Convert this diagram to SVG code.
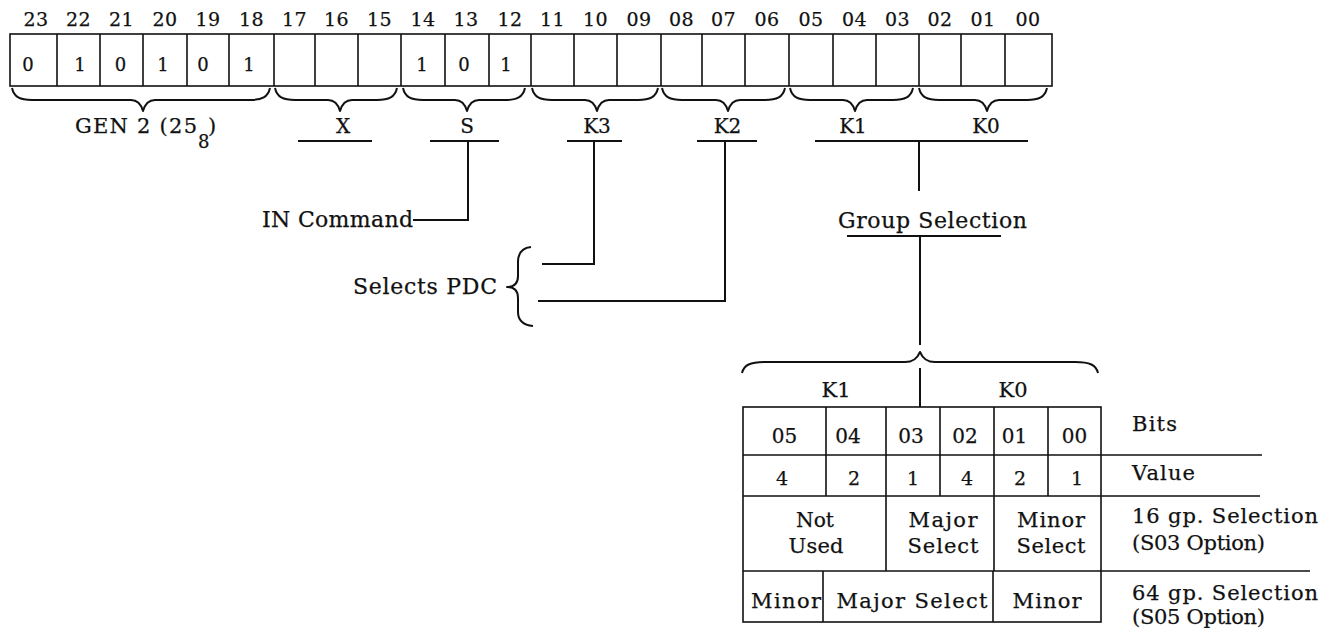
<svg xmlns="http://www.w3.org/2000/svg" width="1340" height="628" viewBox="0 0 1340 628">
<style>
.t{font-family:"DejaVu Serif","Liberation Serif",serif;fill:#111;stroke:#111;stroke-width:0.25;}
.m{text-anchor:middle;}
.n{font-size:19px;}
.v{font-size:18px;}
.lb{font-size:20px;}
.w{font-size:21px;}
.big{font-size:22px;}
.ln{stroke:#111;stroke-width:2;fill:none;}
.bx{stroke:#111;stroke-width:1.6;fill:none;}
.br{stroke:#111;stroke-width:2;fill:none;stroke-linejoin:round;}
</style>
<rect width="1340" height="628" fill="#fff"/>

<g id="register">
  <g class="t n m" letter-spacing="0.5">
    <text x="36" y="26">23</text><text x="78.5" y="26">22</text><text x="121.5" y="26">21</text>
    <text x="165" y="26">20</text><text x="208" y="26">19</text><text x="251.5" y="26">18</text>
    <text x="294.5" y="26">17</text><text x="336.5" y="26">16</text><text x="379.5" y="26">15</text>
    <text x="423" y="26">14</text><text x="466" y="26">13</text><text x="510" y="26">12</text>
    <text x="552.5" y="26">11</text><text x="595.5" y="26">10</text><text x="639" y="26">09</text>
    <text x="681.5" y="26">08</text><text x="723.5" y="26">07</text><text x="767" y="26">06</text>
    <text x="811" y="26">05</text><text x="854.5" y="26">04</text><text x="897.5" y="26">03</text>
    <text x="940" y="26">02</text><text x="983" y="26">01</text><text x="1028" y="26">00</text>
  </g>
  <rect class="bx" x="10" y="34" width="1042" height="52"/>
  <path class="bx" d="M57 34V86M100 34V86M143 34V86M187 34V86M229 34V86M274 34V86M315 34V86M358 34V86M401 34V86M445 34V86M489 34V86M531 34V86M574 34V86M617 34V86M661 34V86M702 34V86M745 34V86M789 34V86M833 34V86M876 34V86M919 34V86M961 34V86M1005 34V86"/>
  <g class="t v m">
    <text x="28" y="71">0</text><text x="80" y="71">1</text><text x="120.5" y="71">0</text>
    <text x="163" y="71">1</text><text x="203" y="71">0</text><text x="249" y="71">1</text>
    <text x="422" y="71">1</text><text x="464" y="71">0</text><text x="506" y="71">1</text>
  </g>
</g>

<g id="field-braces">
  <path class="br" d="M12 88 C14 97 20 100 32 100 L131 100 C138 100 141 104 143 111 C145 104 148 100 155 100 L250 100 C262 100 268 97 270 88"/>
  <path class="br" d="M275 88 C277 97 283 100 295 100 L328 100 C335 100 338 104 340 111 C342 104 345 100 352 100 L377 100 C389 100 395 97 397 88"/>
  <path class="br" d="M403 88 C405 97 411 100 423 100 L455 100 C462 100 465 104 467 111 C469 104 472 100 479 100 L505 100 C517 100 523 97 525 88"/>
  <path class="br" d="M532 88 C534 97 540 100 552 100 L585 100 C592 100 595 104 597 111 C599 104 602 100 609 100 L638 100 C650 100 656 97 658 88"/>
  <path class="br" d="M662 88 C664 97 670 100 682 100 L716 100 C723 100 726 104 728 111 C730 104 733 100 740 100 L765 100 C777 100 783 97 785 88"/>
  <path class="br" d="M790 88 C792 97 798 100 810 100 L843 100 C850 100 853 104 855 111 C857 104 860 100 867 100 L893 100 C905 100 911 97 913 88"/>
  <path class="br" d="M919 88 C921 97 927 100 939 100 L975 100 C982 100 985 104 987 111 C989 104 992 100 999 100 L1027 100 C1039 100 1045 97 1047 88"/>
</g>

<g id="field-labels" class="t lb">
  <text x="75" y="133" font-size="21" textLength="122" lengthAdjust="spacing">GEN 2 (25</text>
  <text x="198" y="148" font-size="18">8</text>
  <text x="208" y="133" font-size="21">)</text>
  <text class="m" x="343" y="133">X</text>
  <text class="m" x="467" y="133">S</text>
  <text class="m" x="597" y="133">K3</text>
  <text class="m" x="727.5" y="133">K2</text>
  <text class="m" x="853" y="133">K1</text>
  <text class="m" x="986" y="133">K0</text>
</g>

<g id="in-command">
  <text class="t big" x="262" y="227" textLength="151" lengthAdjust="spacing">IN Command</text>
</g>

<g id="selects-pdc">
  <text class="t big" x="353" y="294" textLength="144" lengthAdjust="spacing">Selects PDC</text>
  <path class="br" d="M531 247 C522 248 518 254 518 262 L518 276 C518 283 514 287 507 287 C514 287 518 291 518 298 L518 312 C518 320 523 325 533 326"/>
</g>

<g id="group-selection">
  <text class="t big" x="838" y="228" textLength="189" lengthAdjust="spacing">Group Selection</text>
</g>

<g id="connectors">
  <path class="ln" d="M298 141H372"/>
  <path class="ln" d="M430 141H499M468 141V220H413"/>
  <path class="ln" d="M567 141H622M594 141V264H542"/>
  <path class="ln" d="M697 141H757M725 141V301H538"/>
  <path class="ln" d="M815 141H1028M919 141V191"/>
  <path class="ln" d="M847 236H1001M920 236V345"/>
  <path class="ln" d="M920 368V407"/>
</g>

<g id="group-table">
  <path class="br" d="M742 373 C744 365 750 362 765 362 L905 362 C913 362 917 359 920 352 C923 359 927 362 935 362 L1075 362 C1090 362 1096 365 1098 373"/>
  <g class="t w m">
    <text x="836" y="397">K1</text>
    <text x="1013" y="397">K0</text>
  </g>
  <rect class="bx" x="743" y="407" width="358" height="215"/>
  <path class="bx" d="M743 455H1262M743 496H1260M743 571H1310M826 407V496M886 407V571M940 407V496M994 407V571M1048 407V496M823 571V622M993 571V622"/>
  <g class="t lb m">
    <text x="784.5" y="443">05</text><text x="848" y="443">04</text><text x="911" y="443">03</text>
    <text x="965" y="443">02</text><text x="1014.5" y="443">01</text><text x="1074.5" y="443">00</text>
  </g>
  <g class="t n m">
    <text x="782" y="485">4</text><text x="854" y="485">2</text><text x="913" y="485">1</text>
    <text x="967" y="485">4</text><text x="1020" y="485">2</text><text x="1077" y="485">1</text>
  </g>
  <g class="t w m">
    <text x="815" y="527" textLength="38" lengthAdjust="spacingAndGlyphs">Not</text>
    <text x="816" y="553" textLength="55" lengthAdjust="spacing">Used</text>
    <text x="943" y="527" textLength="69" lengthAdjust="spacing">Major</text>
    <text x="943" y="553" textLength="71" lengthAdjust="spacing">Select</text>
    <text x="1051" y="527" textLength="68" lengthAdjust="spacing">Minor</text>
    <text x="1051" y="553" textLength="69" lengthAdjust="spacing">Select</text>
    <text x="786" y="608" textLength="70" lengthAdjust="spacing">Minor</text>
    <text x="912" y="608" textLength="151" lengthAdjust="spacing">Major Select</text>
    <text x="1047" y="608" textLength="69" lengthAdjust="spacing">Minor</text>
  </g>
</g>

<g id="row-labels" class="t w">
  <text x="1132" y="431" textLength="45" lengthAdjust="spacing">Bits</text>
  <text x="1132" y="480" textLength="63" lengthAdjust="spacing">Value</text>
  <text x="1132" y="523" textLength="186" lengthAdjust="spacing">16 gp. Selection</text>
  <text x="1132" y="550" textLength="133" lengthAdjust="spacing">(S03 Option)</text>
  <text x="1132" y="600" textLength="186" lengthAdjust="spacing">64 gp. Selection</text>
  <text x="1132" y="624" textLength="133" lengthAdjust="spacing">(S05 Option)</text>
</g>
</svg>
